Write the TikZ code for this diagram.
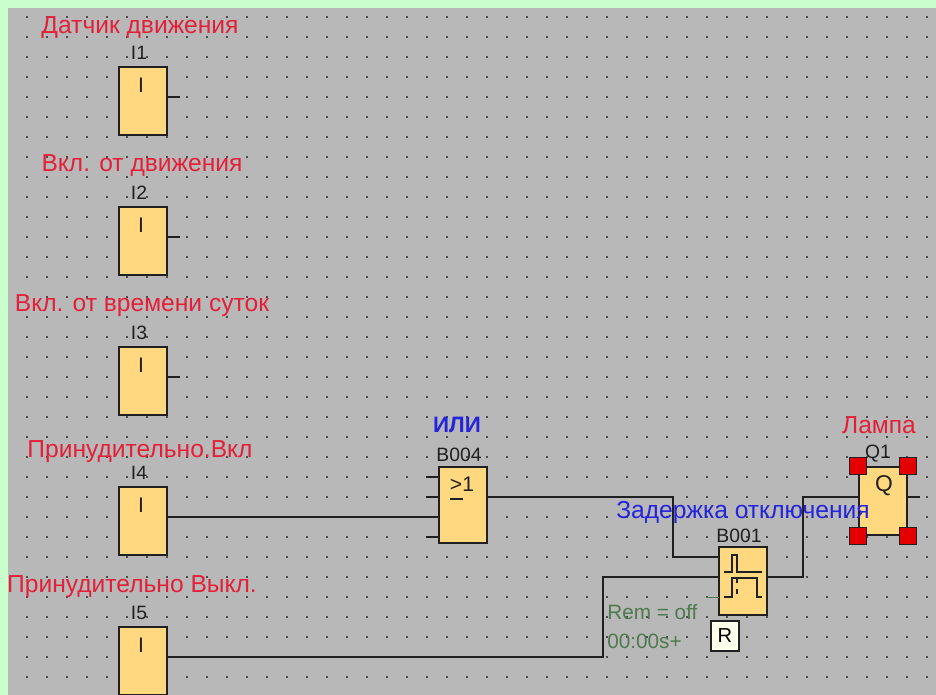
\documentclass[tikz,border=0pt]{standalone}
\usepackage{fontspec}
\setmainfont{Liberation Sans}
\usetikzlibrary{positioning,calc}
\definecolor{frameGreen}{RGB}{200,255,205}
\definecolor{sheetGray}{RGB}{184,184,184}
\definecolor{blockYellow}{RGB}{255,216,128}
\definecolor{tagRed}{RGB}{228,32,56}
\definecolor{tagBlue}{RGB}{36,36,220}
\definecolor{paramGreen}{RGB}{78,122,78}
\definecolor{wireDark}{RGB}{32,32,32}
\definecolor{resetIvory}{RGB}{255,255,238}
\tikzset{
  block/.style={rectangle,draw=wireDark,fill=blockYellow,line width=0.04cm,
                minimum width=0.96cm,minimum height=#1,inner sep=0pt},
  block/.default=1.36cm,
  wire/.style={draw=wireDark,line width=0.04cm},
  redTag/.style={text=tagRed,inner sep=0pt,font=\fontsize{14}{15}\selectfont},
  blueTag/.style={text=tagBlue,inner sep=0pt,font=\fontsize{14}{15}\selectfont},
  idTag/.style={text=wireDark,inner sep=0pt,font=\fontsize{11}{12}\selectfont},
  glyph/.style={text=wireDark,inner sep=0pt,font=\fontsize{12}{13}\selectfont},
  paramTag/.style={text=paramGreen,inner sep=0pt,font=\fontsize{11.8}{13}\selectfont},
  handle/.style={rectangle,draw=wireDark,fill=red!90!black,line width=0.02cm,
                 minimum size=0.34cm,inner sep=0pt},
}
\begin{document}
\begin{tikzpicture}[x=0.02cm,y=-0.02cm]
  \clip (0,0) rectangle (936,695);
  \fill[frameGreen] (0,0) rectangle (936,695);
  \fill[sheetGray] (8,8) rectangle (936,695);
  \foreach \x in {0,...,45}{
    \foreach \y in {0,...,33}{
      \fill[black!70] ({27+20*\x-0.7},{17+20*\y-0.7}) rectangle ++(1.5,1.5);
    }
  }
  % input blocks
  \foreach \n/\t/\y/\o in {i1/I1/101/97,i2/I2/241/237,i3/I3/381/377,i4/I4/521/517,i5/I5/661/657}{
    \node[block](\n) at (143,\y) {};
    \node[glyph](\n sym) at (141,\y-16) {I};
    \node[idTag](\n id) at (139,\y-48) {\t};
    \coordinate (\n out) at (167,\o);
  }
  \node[block=1.52cm](b004) at (463,505) {};
  \node[block](b001) at (743,581) {};
  \node[block](q1) at (883,501) {};
  % input pins
  \foreach \y in {477,497,537}{
    \coordinate (pin\y) at (438,\y);
    \draw[wire] (pin\y) -- ++(-12,0);
  }
  \foreach \n in {i1,i2,i3}{
    \draw[wire] (\n out) -- ++(13,0);
  }
  \coordinate (b004in) at (438,517);
  \coordinate (b004out) at (487,497);
  \coordinate (b001a) at (719,557);
  \coordinate (b001b) at (719,577);
  \coordinate (b001c) at (719,597);
  \coordinate (b001out) at (767,577);
  \coordinate (q1in) at (859,497);
  \coordinate (q1out) at (907,497);
  \draw[wire] (i4out) -- (b004in);
  \draw[wire] (b004out) -- (673,497) -- (673,557) -- (b001a);
  \draw[wire] (i5out) -- (603,657) -- (603,577) -- (b001b);
  \draw[wire] (b001out) -- (803,577) -- (803,497) -- (q1in);
  \draw[wire] (q1out) -- ++(13,0);
  \draw[paramGreen,line width=0.02cm] (b001c) -- ++(-13,0);
  % block symbols
  \draw[wire,line width=0.03cm] (724,572) -- (732,572) -- (732,555) -- (737,555) -- (737,572) -- (762,572);
  \draw[wire,line width=0.03cm] (724,597) -- (732,597) -- (732,578) -- (757,578) -- (757,597) -- (762,597);
  \draw[wire,line width=0.03cm,dashed] (737,578) -- (737,597);
  \node[glyph](b004sym) at (462,484) {>1};
  \coordinate (b004bar) at (450,499);
  \draw[wire,line width=0.03cm] (b004bar) -- ++(13,0);
  \node[glyph,font=\fontsize{13}{14}\selectfont](q1sym) at (884,486) {Q};
  \node[rectangle,draw=wireDark,fill=resetIvory,line width=0.03cm,minimum width=0.56cm,
        minimum height=0.6cm,inner sep=0pt,font=\fontsize{11.5}{13}\selectfont](rst) at (725,636) {R};
  \foreach \a in {north west,north east,south west,south east}{
    \node[handle](h \a) at (q1.\a) {};
  }
  % texts
  \node[redTag](tagA) at (140,27) {Датчик движения};
  \node[redTag](tagB) at (142,165) {Вкл. от движения};
  \node[redTag](tagC) at (142,306) {Вкл. от времени суток};
  \node[redTag](tagD) at (140,452) {Принудительно.Вкл};
  \node[redTag](tagE) at (132,587) {Принудительно Выкл.};
  \node[redTag](tagF) at (879,425) {Лампа};
  \node[blueTag,font=\fontsize{12.7}{14}\selectfont\bfseries](tagG) at (457,425) {ИЛИ};
  \node[blueTag](tagH) at (743,512) {Задержка отключения};
  \node[idTag](b004id) at (459,455) {B004};
  \node[idTag](b001id) at (739,536) {B001};
  \node[idTag](q1id) at (878,454) {Q1};
  \node[paramTag,anchor=west](rem) at (607,612) {Rem = off};
  \node[paramTag,anchor=west](tim) at (607,641) {00:00s+};
\end{tikzpicture}
\end{document}
